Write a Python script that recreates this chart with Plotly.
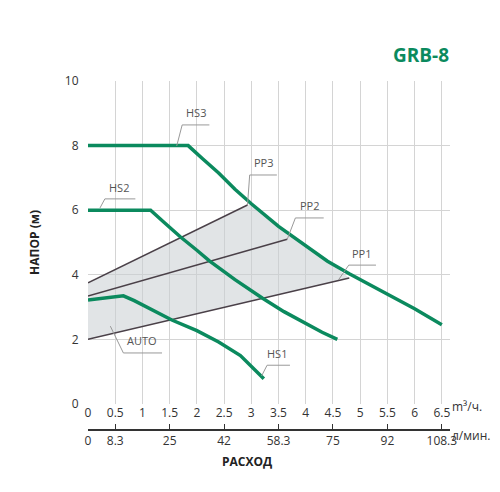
import plotly.graph_objects as go

hs3_x = [0, 1.84, 2.1, 2.4, 2.7, 3.0, 3.5, 4.0, 4.4, 4.8, 5.5, 6.0, 6.5]
hs3_y = [8, 8, 7.6, 7.15, 6.65, 6.2, 5.5, 4.9, 4.42, 4.03, 3.4, 2.95, 2.45]
hs2_x = [0, 1.15, 1.4, 1.7, 2.0, 2.23, 2.7, 3.2, 3.6, 4.0, 4.3, 4.58]
hs2_y = [6, 6, 5.62, 5.17, 4.76, 4.43, 3.85, 3.28, 2.86, 2.5, 2.22, 2.0]
hs1_x = [0, 0.65, 0.85, 1.1, 1.54, 2.0, 2.4, 2.8, 3.0, 3.23]
hs1_y = [3.22, 3.35, 3.2, 2.98, 2.6, 2.27, 1.92, 1.5, 1.17, 0.78]
pp3_x = [0, 2.93]; pp3_y = [3.75, 6.16]
pp2_x = [0, 3.66]; pp2_y = [3.34, 5.1]
pp1_x = [0, 4.8]; pp1_y = [2.0, 3.9]
top_ticks = [0, 0.5, 1, 1.5, 2, 2.5, 3, 3.5, 4, 4.5, 5, 5.5, 6, 6.5]
lmin_pos = [0, 0.5, 1.5, 2.5, 3.5, 4.5, 5.5, 6.5]
lmin_text = ["0", "8.3", "25", "42", "58.3", "75", "92", "108.3"]

GREEN = "#0b8a5e"
DARK = "#4a4048"
fig = go.Figure()

reg_x = [0, 2.93, 3.0, 3.5, 4.0, 4.4, 4.8, 0]
reg_y = [3.75, 6.16, 6.2, 5.5, 4.9, 4.42, 3.9, 2.0]
fig.add_trace(go.Scatter(x=reg_x, y=reg_y, fill="toself", fillcolor="rgba(200,205,210,0.55)",
                         line=dict(width=0), mode="lines", hoverinfo="skip"))
for xs, ys in [(pp3_x, pp3_y), (pp2_x, pp2_y), (pp1_x, pp1_y)]:
    fig.add_trace(go.Scatter(x=xs, y=ys, mode="lines", line=dict(color=DARK, width=1.5)))
for xs, ys in [(hs3_x, hs3_y), (hs2_x, hs2_y), (hs1_x, hs1_y)]:
    fig.add_trace(go.Scatter(x=xs, y=ys, mode="lines", line=dict(color=GREEN, width=3.5)))

labels = [
    ("HS3", 1.98, 8.72, [1.63, 1.73, 2.23], [7.99, 8.64, 8.64]),
    ("HS2", 0.57, 6.42, [0.22, 0.31, 0.87], [6.07, 6.35, 6.35]),
    ("PP3", 3.23, 7.17, [2.93, 2.97, 3.47], [6.16, 7.09, 7.09]),
    ("PP2", 4.07, 5.84, [3.66, 3.81, 4.33], [5.1, 5.76, 5.76]),
    ("PP1", 5.03, 4.38, [4.6, 4.79, 5.29], [3.84, 4.3, 4.3]),
    ("AUTO", 1.0, 1.66, [0.41, 0.65, 1.36], [2.41, 1.58, 1.58]),
    ("HS1", 3.48, 1.28, [3.19, 3.29, 3.71], [0.87, 1.2, 1.2]),
]
for t, tx, ty, lx, ly in labels:
    fig.add_trace(go.Scatter(x=lx, y=ly, mode="lines", line=dict(color="#999", width=1), hoverinfo="skip"))
    fig.add_annotation(x=tx, y=ty, text=t, showarrow=False, font=dict(size=11, color="#555"), yanchor="bottom")

fig.add_trace(go.Scatter(x=[0], y=[None], xaxis="x2", showlegend=False))

fig.update_layout(
    width=500, height=492, showlegend=False, plot_bgcolor="white", paper_bgcolor="white",
    margin=dict(l=80, r=58, t=73, b=60, autoexpand=False),
    font=dict(family="Open Sans", color="#333", size=12),
    xaxis=dict(range=[0, 6.65], tickvals=top_ticks, ticktext=[str(v) for v in top_ticks],
               showgrid=True, gridcolor="#d4d4d4", zeroline=False, showline=False, ticks="",
               anchor="y", automargin=False),
    xaxis2=dict(range=[0, 6.65], overlaying="x", side="bottom", anchor="free", position=0.028,
                tickvals=lmin_pos, ticktext=lmin_text, showline=True, linecolor="#333", linewidth=1.5,
                ticks="inside", ticklen=5, tickcolor="#333", showgrid=False, zeroline=False, automargin=False),
    yaxis=dict(range=[0, 10], dtick=2, domain=[0.1003, 1], showgrid=True, gridcolor="#d4d4d4",
               zeroline=False, ticks="outside", ticklen=6, tickcolor="white", automargin=False,
               title=dict(text="<b>НАПОР (м)</b>", font=dict(size=12, color="#222"), standoff=22)),
)
fig.add_annotation(xref="paper", yref="paper", x=1.0, y=0.063, text="m³/ч.", showarrow=False, xanchor="left", font=dict(size=12))
fig.add_annotation(xref="paper", yref="paper", x=1.0, y=-0.016, text="л/мин.", showarrow=False, xanchor="left", font=dict(size=12))
fig.add_annotation(xref="paper", yref="paper", x=0.44, y=-0.09, text="<b>РАСХОД</b>", showarrow=False, font=dict(size=12, color="#222"))
fig.add_annotation(xref="paper", yref="paper", x=0.92, y=1.115, text="<b>GRB-8</b>", showarrow=False, xanchor="center", font=dict(size=19, color=GREEN))
fig.write_html("out.html")
